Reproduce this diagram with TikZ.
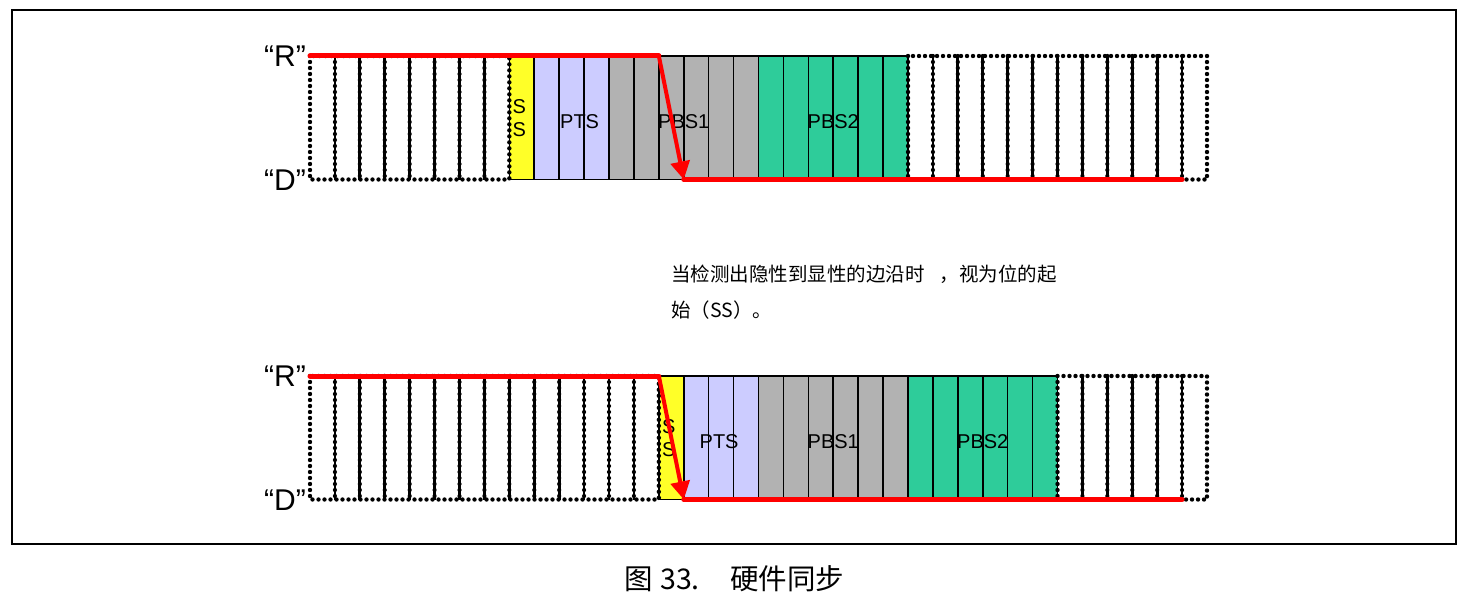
\documentclass[tikz,border=0pt]{standalone}
\usepackage{fontspec}
\setmainfont{Liberation Sans}
\newfontfamily\cjk{Noto Sans CJK SC}
\usetikzlibrary{arrows.meta}
\definecolor{ssyellow}{RGB}{255,255,40}
\definecolor{ptsblue}{RGB}{204,204,255}
\definecolor{pbsgray}{RGB}{178,178,178}
\definecolor{pbsgreen}{RGB}{46,204,154}
\definecolor{sigred}{RGB}{255,0,0}
\tikzset{
  cellline/.style={draw=black, line width=1.6pt},
  dotedge/.style={draw=black, line width=4.4pt, line cap=round, dash pattern=on 0pt off 6pt},
  innerv/.style={draw=black, line width=2.8pt},
  innerdot/.style={draw=black, line width=4.2pt, line cap=round, dash pattern=on 0pt off 6pt},
  redline/.style={draw=sigred, line width=5pt, line cap=round},
  redarrow/.style={draw=sigred, line width=4pt, -{Triangle[length=18pt,width=19pt]}},
  lbl/.style={font=\fontsize{20}{23}\selectfont, inner sep=0pt, align=center},
  rdlbl/.style={font=\fontsize{30}{32}\selectfont, anchor=east, inner sep=0pt},
}
\newcommand\sigrow[4]{%
  \pgfmathsetmacro\rT{#1}%
  \pgfmathsetmacro\rB{#1+123.5}%
  \pgfmathsetmacro\cw{897/36}%
  \foreach \i in {0,...,35} {
    \pgfmathsetmacro\xa{310+\i*\cw}
    \pgfmathsetmacro\xb{310+(\i+1)*\cw}
    \pgfmathtruncatemacro\k{\i-#2}
    \ifnum\k=0 \draw[cellline,fill=ssyellow] (\xa,\rT) rectangle (\xb,\rB); \fi
    \ifnum\k>0 \ifnum\k<4 \draw[cellline,fill=ptsblue] (\xa,\rT) rectangle (\xb,\rB); \fi\fi
    \ifnum\k>3 \ifnum\k<10 \draw[cellline,fill=pbsgray] (\xa,\rT) rectangle (\xb,\rB); \fi\fi
    \ifnum\k>9 \ifnum\k<16 \draw[cellline,fill=pbsgreen] (\xa,\rT) rectangle (\xb,\rB); \fi\fi
    \ifnum\k<0 \ifnum\i>0 \draw[innerv] (\xa,\rT) -- (\xa,\rB); \draw[innerdot] (\xa,\rT) -- (\xa,\rB); \fi\fi
    \ifnum\k>16 \draw[innerv] (\xa,\rT) -- (\xa,\rB); \draw[innerdot] (\xa,\rT) -- (\xa,\rB); \fi
  }
  \pgfmathsetmacro\xL{310+#2*\cw}%
  \pgfmathsetmacro\xR{310+(#2+16)*\cw}%
  \draw[dotedge] (310,\rT) rectangle (\xL,\rB);
  \draw[dotedge] (\xR,\rT) rectangle (1207,\rB);
  % labels
  \node[lbl] (ss#3) at ({310+(#2+0.4)*\cw},{\rT+62}) {S\\S};
  \node[lbl] (pts#3) at ({310+(#2+2.5)*\cw+#4},{\rT+66}) {PTS};
  \node[lbl] (pbsa#3) at ({310+(#2+7)*\cw},{\rT+66}) {PBS1};
  \node[lbl] (pbsb#3) at ({310+(#2+13)*\cw},{\rT+66}) {PBS2};
  \node[rdlbl] (R#3) at (306,\rT) {“R”};
  \node[rdlbl] (D#3) at (306,{\rB+1}) {“D”};
  % red waveform
  \coordinate (rs#3) at (310,\rT);
  \coordinate (rf#3) at ({310+14*\cw},\rT);
  \coordinate (rl#3) at ({310+15*\cw},\rB);
  \coordinate (re#3) at ({310+35*\cw},\rB);
  \draw[redline] (rs#3) -- (rf#3);
  \draw[redarrow] (rf#3) -- (rl#3);
  \draw[redline] (rl#3) -- (re#3);
}
\begin{document}
\begin{tikzpicture}[x=1pt,y=-1pt]
  \useasboundingbox[fill=white] (0,0) rectangle (1467,610);
  \draw[line width=2pt] (12,10) rectangle (1456,544);
  \sigrow{56}{8}{A}{8}
  \sigrow{376}{14}{B}{-2}
  \node[anchor=west, inner sep=0pt, font=\cjk\fontsize{19.5}{36}\selectfont, align=left] (note) at (671,292)
    {当检测出隐性到显性的边沿时\hspace{15pt}，视为位的起\\始（SS）。};
  \node[anchor=west, inner sep=0pt, font=\cjk\fontsize{28.5}{30}\selectfont] (cap) at (624,579)
    {\makebox[36pt][l]{图}\makebox[70pt][l]{33.}硬件同步};
\end{tikzpicture}
\end{document}
